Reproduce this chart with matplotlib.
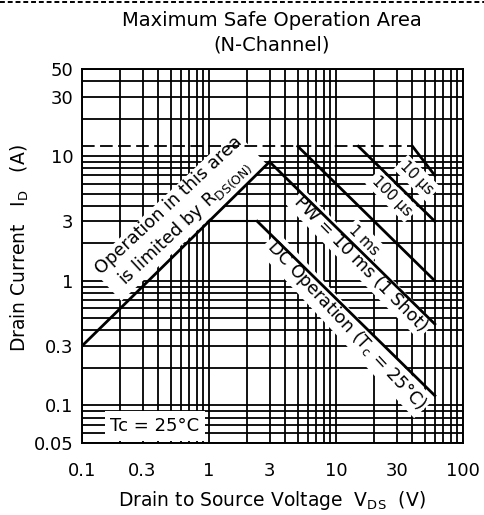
import numpy as np
import matplotlib
matplotlib.use("Agg")
import matplotlib.pyplot as plt
from matplotlib.ticker import LogLocator, NullFormatter
from matplotlib.lines import Line2D

plt.rcParams['font.family'] = ['DejaVu Sans']
plt.rcParams['mathtext.default'] = 'regular'

# axis ticks
x_ticks = [0.1, 0.3, 1, 3, 10, 30, 100]
x_tick_labels = ["0.1", "0.3", "1", "3", "10", "30", "100"]
y_ticks = [0.05, 0.1, 0.3, 1, 3, 10, 30, 50]
y_tick_labels = ["0.05", "0.1", "0.3", "1", "3", "10", "30", "50"]

# SOA boundaries, V_DS (V) vs I_D (A)
rds_v = [0.1, 3.0]
rds_i = [0.3, 9.0]
id_pulse_v = [0.1, 40]
id_pulse_i = [12, 12]
id_dc_v = [1.0, 2.4]
id_dc_i = [3.0, 3.0]
dc_v = [2.4, 60]
dc_i = [3.0, 0.12]
pw10ms_v = [3.0, 60]
pw10ms_i = [9.0, 0.45]
pw1ms_v = [5.0, 60]
pw1ms_i = [12, 1.0]
pw100us_v = [15, 60]
pw100us_i = [12, 3.0]
pw10us_v = [40, 60]
pw10us_i = [12, 7.0]


fig = plt.figure(figsize=(4.85, 5.15), dpi=100)
ax = fig.add_axes([82/485, 72/515, 381/485, 374/515])
ax.set_xscale('log')
ax.set_yscale('log')
ax.set_xlim(0.1, 100)
ax.set_ylim(0.05, 50)

ax.set_xticks(x_ticks, labels=x_tick_labels)
ax.set_yticks(y_ticks, labels=y_tick_labels)
ax.xaxis.set_minor_locator(LogLocator(base=10, subs=np.arange(1, 10), numticks=30))
ax.yaxis.set_minor_locator(LogLocator(base=10, subs=np.arange(1, 10), numticks=30))
ax.xaxis.set_minor_formatter(NullFormatter())
ax.yaxis.set_minor_formatter(NullFormatter())
ax.tick_params(which='both', length=0, labelsize=13)
ax.tick_params(axis='x', pad=14)
ax.tick_params(axis='y', pad=6)
ax.grid(which='both', color='black', lw=1.3, zorder=1)
ax.set_axisbelow(True)
for s in ax.spines.values():
    s.set_linewidth(1.4)

# boundary lines
lw = 2.0
ax.plot(rds_v, rds_i, color='black', lw=lw, zorder=5)
ax.plot(id_pulse_v, id_pulse_i, color='black', lw=1.3, ls=(0, (7, 3)), zorder=5)
ax.plot(id_dc_v, id_dc_i, color='black', lw=1.5, zorder=5)
ax.plot(dc_v, dc_i, color='black', lw=lw, zorder=5)
ax.plot(pw10ms_v, pw10ms_i, color='black', lw=lw, zorder=5)
ax.plot(pw1ms_v, pw1ms_i, color='black', lw=lw, zorder=5)
ax.plot(pw100us_v, pw100us_i, color='black', lw=lw, zorder=5)
ax.plot(pw10us_v, pw10us_i, color='black', lw=lw, zorder=5)

box = dict(facecolor='white', edgecolor='none', pad=2)

ax.text(0.565, 3.37, "Operation in this area\nis limited by R$_{DS (ON)}$",
        rotation=43, rotation_mode='anchor', ha='center', va='center',
        fontsize=12.8, linespacing=1.25, bbox=box, zorder=4)
ax.text(15.7, 1.36, "PW = 10 ms (1 Shot)", rotation=-45.5,
        rotation_mode='anchor', ha='center', va='center',
        fontsize=12.5, bbox=box, zorder=4)
ax.text(12.0, 0.442, "DC Operation (T$_c$ = 25°C)", rotation=-47,
        rotation_mode='anchor', ha='center', va='center',
        fontsize=12.5, bbox=box, zorder=4)
ax.text(16.7, 2.12, "1 ms", rotation=-45, rotation_mode='anchor',
        ha='center', va='center', fontsize=10.5, bbox=box, zorder=4)
ax.text(27.6, 4.79, "100 µs", rotation=-45, rotation_mode='anchor',
        ha='center', va='center', fontsize=10.5, bbox=box, zorder=4)
ax.text(43.4, 6.67, "10 µs", rotation=-45, rotation_mode='anchor',
        ha='center', va='center', fontsize=10.5, bbox=box, zorder=4)
ax.text(0.376, 0.0685, "Tc = 25°C", ha='center', va='center', fontsize=13,
        bbox=dict(facecolor='white', edgecolor='none', pad=4), zorder=4)

# titles and axis labels
fig.text(272/485, 1 - 20/515, "Maximum Safe Operation Area",
         ha='center', va='center', fontsize=14)
fig.text(272/485, 1 - 45/515, "(N-Channel)", ha='center', va='center', fontsize=14)
fig.text(272/485, 1 - 500/515, "Drain to Source Voltage  V$_{DS}$  (V)",
         ha='center', va='center', fontsize=13.5)
fig.text(20/485, 1 - 248/515, "Drain Current   I$_D$   (A)", rotation=90,
         ha='center', va='center', fontsize=13.5)

# dotted border along the top edge
fig.add_artist(Line2D([0, 1], [1 - 1.5/515, 1 - 1.5/515], transform=fig.transFigure,
                      color='black', lw=1.4, ls=(0, (2.5, 1.5))))

fig.savefig("out.png", dpi=100)
